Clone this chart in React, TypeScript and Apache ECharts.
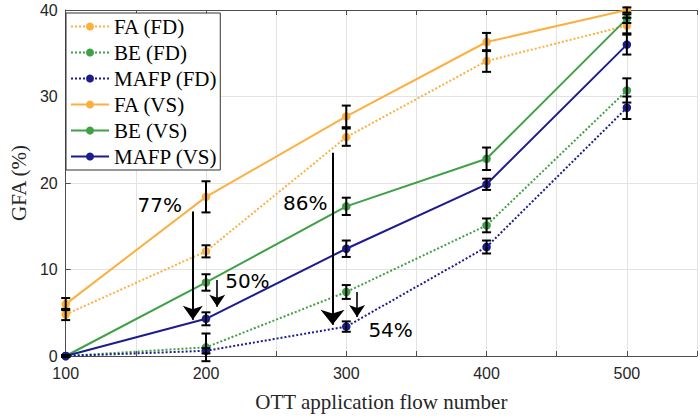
import React, { useEffect, useRef } from "react";
import * as echarts from "echarts";

const flows = [100, 200, 300, 400, 500];
const faFD = [4.8, 12.1, 25.3, 34.1, 38.2];
const beFD = [0, 1.0, 7.4, 15.1, 30.7];
const mafpFD = [0, 0.6, 3.4, 12.6, 28.7];
const faVS = [6.0, 18.4, 27.7, 36.3, 40.0];
const beVS = [0, 8.5, 17.3, 22.8, 39.0];
const mafpVS = [0, 4.3, 12.4, 19.85, 36.0];

const faFDErr = [0.65, 0.7, 1.0, 1.25, 0.9];
const beFDErr = [0.1, 1.6, 0.8, 0.8, 1.4];
const mafpFDErr = [0.1, 0.3, 0.6, 0.75, 1.3];
const faVSErr = [0.7, 1.8, 1.25, 1.05, 0.3];
const beVSErr = [0.1, 0.95, 1.0, 1.3, 0.5];
const mafpVSErr = [0.1, 0.75, 0.95, 0.65, 1.15];

const yTicks = [0, 10, 20, 30, 40];

// annotations: [x, yStart, yEnd]
const arrows = [
  [190.6, 16.7, 4.2],
  [208, 8.8, 5.7],
  [290.2, 23.5, 3.6],
  [307.7, 7.4, 4.5],
];
const arrowHeads = [[15, 14], [12, 12], [18, 15], [12, 12]];
const arrowWidths = [2, 1.6, 2, 1.6];
const noteTexts = ["77%", "50%", "86%", "54%"];
const noteX = [167, 229.5, 270.7, 331.6];
const noteY = [17.5, 8.7, 17.7, 3.0];

const ORANGE = "#FBB040";
const GREEN = "#3FA046";
const NAVY = "#1C1C8E";

export default function App() {
  const ref = useRef<HTMLDivElement>(null);
  useEffect(() => {
    if (!ref.current) return;
    const chart = echarts.init(ref.current, null, { renderer: "svg" });

    const mkLine = (name: string, vals: number[], color: string, dotted: boolean) => ({
      name,
      type: "line",
      data: flows.map((f, i) => [f, vals[i]]),
      symbol: "circle",
      symbolSize: 8.5,
      showSymbol: true,
      itemStyle: { color },
      lineStyle: { color, width: 2, type: dotted ? [2, 2] : "solid" },
      z: 2,
    });

    const errData: number[][] = [];
    const addErr = (vals: number[], errs: number[]) => {
      flows.forEach((f, i) => errData.push([f, vals[i] - errs[i], vals[i] + errs[i]]));
    };
    addErr(faFD, faFDErr);
    addErr(beFD, beFDErr);
    addErr(mafpFD, mafpFDErr);
    addErr(faVS, faVSErr);
    addErr(beVS, beVSErr);
    addErr(mafpVS, mafpVSErr);

    const option: any = {
      animation: false,
      backgroundColor: "#fff",
      grid: { left: 61, top: 10, width: 646, height: 346, containLabel: false },
      xAxis: [
        {
          type: "value",
          min: 100,
          max: 550,
          interval: 50,
          name: "OTT application flow number",
          nameLocation: "middle",
          nameGap: 35,
          nameTextStyle: { fontFamily: "Liberation Serif", fontSize: 21, color: "#262626" },
          axisLine: { show: true, lineStyle: { color: "#4d4d4d", width: 1 } },
          axisTick: { show: true, inside: true, length: 5, lineStyle: { color: "#4d4d4d" } },
          axisLabel: {
            fontFamily: "Liberation Sans",
            fontSize: 16,
            color: "#262626",
            margin: 9,
            formatter: (v: number) => (v % 100 === 0 && v <= 500 ? String(v) : ""),
          },
          splitLine: { show: true, lineStyle: { color: "#e3e3e3", width: 1 } },
        },
        {
          type: "value",
          position: "top",
          min: 100,
          max: 550,
          interval: 50,
          axisLine: { show: true, lineStyle: { color: "#4d4d4d", width: 1 } },
          axisTick: { show: true, inside: true, length: 5, lineStyle: { color: "#4d4d4d" } },
          axisLabel: { show: false },
          splitLine: { show: false },
        },
      ],
      yAxis: {
        type: "value",
        min: yTicks[0],
        max: yTicks[yTicks.length - 1],
        interval: 10,
        name: "GFA (%)",
        nameLocation: "middle",
        nameGap: 32,
        nameTextStyle: { fontFamily: "Liberation Serif", fontSize: 21, color: "#262626" },
        axisLine: { show: true, lineStyle: { color: "#4d4d4d", width: 1 } },
        axisTick: { show: true, inside: true, length: 5, lineStyle: { color: "#4d4d4d" } },
        axisLabel: { fontFamily: "Liberation Sans", fontSize: 16, color: "#262626", margin: 8 },
        splitLine: { show: true, lineStyle: { color: "#e3e3e3", width: 1 } },
      },
      legend: {
        orient: "vertical",
        left: 66,
        top: 13,
        padding: [3, 3, 3, 4],
        itemWidth: 38,
        itemHeight: 10,
        itemGap: 5,
        backgroundColor: "#fff",
        borderColor: "#333",
        borderWidth: 1,
        borderRadius: 0,
        textStyle: { fontFamily: "Liberation Serif", fontSize: 21, color: "#000", lineHeight: 21 },
        data: ["FA (FD)", "BE (FD)", "MAFP (FD)", "FA (VS)", "BE (VS)", "MAFP (VS)"],
      },
      series: [
        mkLine("FA (FD)", faFD, ORANGE, true),
        mkLine("BE (FD)", beFD, GREEN, true),
        mkLine("MAFP (FD)", mafpFD, NAVY, true),
        mkLine("FA (VS)", faVS, ORANGE, false),
        mkLine("BE (VS)", beVS, GREEN, false),
        mkLine("MAFP (VS)", mafpVS, NAVY, false),
        {
          type: "custom",
          name: "err",
          z: 5,
          clip: false,
          data: errData,
          encode: { x: 0, y: [1, 2] },
          renderItem: (params: any, api: any) => {
            const x = api.value(0);
            const lo = api.coord([x, api.value(1)]);
            const hi = api.coord([x, api.value(2)]);
            const hw = 4.5;
            const st = { stroke: "#000", lineWidth: 2 };
            return {
              type: "group",
              children: [
                { type: "line", shape: { x1: lo[0], y1: lo[1], x2: hi[0], y2: hi[1] }, style: st },
                { type: "line", shape: { x1: lo[0] - hw, y1: lo[1], x2: lo[0] + hw, y2: lo[1] }, style: st },
                { type: "line", shape: { x1: hi[0] - hw, y1: hi[1], x2: hi[0] + hw, y2: hi[1] }, style: st },
              ],
            };
          },
        },
        {
          type: "custom",
          name: "notes",
          z: 6,
          clip: false,
          silent: true,
          data: noteTexts.map((t, i) => [noteX[i], noteY[i], i]),
          encode: { x: 0, y: 1 },
          renderItem: (params: any, api: any) => {
            const p = api.coord([api.value(0), api.value(1)]);
            return {
              type: "text",
              x: p[0],
              y: p[1],
              style: {
                text: noteTexts[params.dataIndex],
                fill: "#000",
                font: '20px "DejaVu Sans"',
                align: "center",
                verticalAlign: "middle",
              },
            };
          },
          markLine: {
            silent: true,
            symbol: ["none", "arrow"],
            label: { show: false },
            data: arrows.map((a, i) => [
              {
                coord: [a[0], a[1]],
                symbol: "none",
                lineStyle: { color: "#000", width: arrowWidths[i], type: "solid", opacity: 1 },
              },
              { coord: [a[0], a[2]], symbol: "arrow", symbolSize: arrowHeads[i] },
            ]),
          },
        },
      ],
    };
    chart.setOption(option);
    return () => chart.dispose();
  }, []);
  return <div ref={ref} style={{ width: 700, height: 418, position: "absolute", left: 0, top: 0 }} />;
}
